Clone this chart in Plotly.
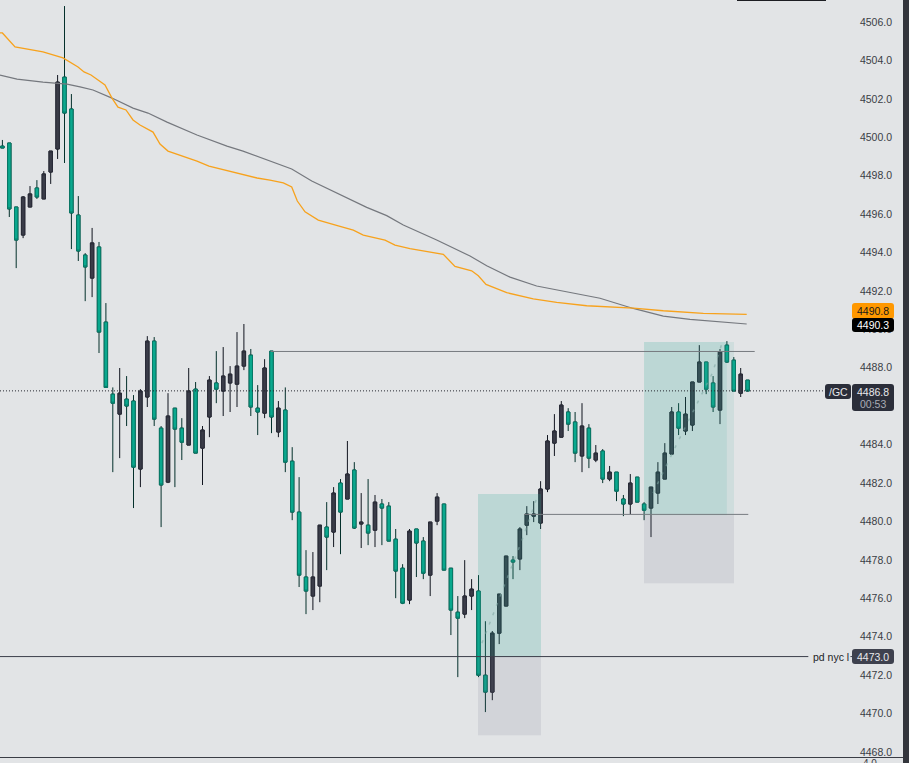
import plotly.graph_objects as go

# /GC candles
opens = [
    4499.54, 4499.70, 4496.37, 4494.91, 4496.37, 4497.36, 4496.79, 4498.19, 4499.39, 4503.13,
    4501.47, 4495.95, 4493.87, 4492.67, 4494.29, 4490.38, 4486.63, 4485.59, 4486.37, 4486.27,
    4482.73, 4486.48, 4489.39, 4484.86, 4482.05, 4485.90, 4484.86, 4483.98, 4486.89, 4483.82,
    4485.44, 4487.21, 4486.79, 4487.21, 4487.15, 4488.09, 4488.66, 4485.90, 4485.64, 4488.87,
    4484.66, 4485.80, 4483.14, 4480.49, 4477.11, 4476.12, 4476.64, 4479.71, 4479.45, 4482.00,
    4481.17, 4482.68, 4479.87, 4479.81, 4479.55, 4480.91, 4480.80, 4479.08, 4477.57, 4475.91,
    4479.61, 4478.98, 4477.21, 4480.02, 4480.91, 4477.57, 4475.28, 4475.18, 4476.12, 4476.38,
    4472.00, 4471.12, 4474.19, 4475.60, 4477.99, 4478.05, 4479.81, 4480.28, 4479.92, 4481.69,
    4484.08, 4484.39, 4485.70, 4485.18, 4483.41, 4484.86, 4483.20, 4483.67, 4482.21, 4482.57,
    4481.17, 4480.91, 4482.31, 4480.91, 4480.70, 4481.48, 4482.21, 4483.51, 4485.70, 4484.71,
    4485.02, 4487.26, 4488.30, 4487.21, 4485.80, 4489.18, 4488.40, 4486.68, 4487.36,
]
highs = [
    4499.86, 4499.70, 4496.37, 4496.94, 4497.46, 4497.77, 4498.24, 4499.28, 4503.24, 4506.83,
    4502.25, 4496.94, 4493.97, 4495.28, 4494.55, 4491.37, 4486.98, 4487.99, 4487.57, 4486.58,
    4486.89, 4489.65, 4489.60, 4484.97, 4486.68, 4485.90, 4485.38, 4487.99, 4487.26, 4484.97,
    4487.57, 4488.87, 4489.08, 4488.09, 4489.86, 4490.28, 4488.98, 4487.10, 4488.45, 4488.87,
    4486.27, 4486.98, 4483.87, 4482.31, 4478.51, 4478.41, 4479.81, 4481.01, 4481.79, 4482.21,
    4484.19, 4483.09, 4481.48, 4482.21, 4481.38, 4481.17, 4481.01, 4479.61, 4477.78, 4479.61,
    4479.61, 4479.19, 4479.97, 4481.48, 4480.91, 4477.57, 4476.12, 4477.99, 4477.00, 4477.21,
    4474.81, 4474.30, 4476.22, 4478.20, 4478.20, 4479.71, 4480.80, 4481.06, 4482.10, 4484.50,
    4485.59, 4486.27, 4485.90, 4485.70, 4486.16, 4485.07, 4483.98, 4483.77, 4482.89, 4482.57,
    4481.38, 4482.47, 4482.31, 4481.01, 4481.79, 4483.09, 4484.08, 4485.96, 4486.16, 4486.48,
    4487.26, 4489.18, 4488.30, 4487.57, 4488.98, 4489.39, 4488.56, 4487.99, 4487.36,
]
lows = [
    4499.44, 4495.85, 4493.19, 4494.75, 4496.37, 4496.79, 4496.79, 4497.57, 4498.87, 4498.66,
    4494.18, 4493.56, 4491.47, 4491.68, 4488.77, 4486.98, 4482.57, 4483.30, 4484.97, 4480.70,
    4481.79, 4485.96, 4484.97, 4479.71, 4482.00, 4481.79, 4483.20, 4483.98, 4483.56, 4481.90,
    4484.39, 4486.16, 4485.49, 4485.70, 4485.96, 4487.88, 4485.49, 4484.50, 4485.38, 4484.60,
    4484.39, 4482.57, 4480.07, 4476.59, 4475.18, 4475.39, 4475.80, 4477.47, 4478.67, 4478.30,
    4481.17, 4479.61, 4478.62, 4478.77, 4478.67, 4478.77, 4478.98, 4476.01, 4475.70, 4475.70,
    4477.11, 4477.00, 4476.12, 4479.81, 4477.47, 4474.09, 4471.90, 4474.97, 4475.39, 4471.90,
    4470.08, 4470.70, 4473.62, 4475.60, 4477.00, 4477.47, 4479.29, 4479.97, 4479.61, 4481.53,
    4483.41, 4484.39, 4484.71, 4483.09, 4482.57, 4482.78, 4483.09, 4482.00, 4482.10, 4481.06,
    4480.28, 4480.39, 4481.01, 4480.07, 4479.19, 4480.91, 4482.21, 4483.51, 4484.50, 4484.50,
    4484.71, 4487.26, 4486.63, 4485.70, 4485.07, 4488.25, 4486.79, 4486.48, 4486.79,
]
closes = [
    4499.44, 4496.27, 4494.65, 4496.89, 4497.05, 4496.89, 4498.09, 4499.28, 4502.87, 4501.26,
    4496.06, 4494.08, 4493.25, 4494.50, 4489.86, 4486.98, 4486.16, 4486.68, 4486.01, 4482.83,
    4486.79, 4489.39, 4485.33, 4481.90, 4485.49, 4484.81, 4484.13, 4486.79, 4483.56, 4484.76,
    4487.36, 4486.89, 4487.57, 4487.67, 4488.09, 4488.87, 4485.96, 4485.70, 4487.99, 4485.44,
    4485.90, 4483.09, 4480.49, 4477.21, 4476.38, 4477.11, 4479.81, 4479.19, 4481.48, 4480.49,
    4482.47, 4479.66, 4479.97, 4479.40, 4481.01, 4480.70, 4478.98, 4477.42, 4475.75, 4479.50,
    4478.88, 4477.31, 4479.97, 4481.27, 4477.47, 4475.39, 4474.97, 4476.12, 4476.48, 4472.00,
    4471.12, 4474.19, 4476.22, 4478.20, 4477.89, 4479.61, 4480.39, 4480.39, 4481.69, 4484.19,
    4484.71, 4486.06, 4485.07, 4483.56, 4484.97, 4483.30, 4483.56, 4482.21, 4482.57, 4481.58,
    4480.91, 4482.00, 4481.01, 4480.59, 4481.79, 4482.57, 4483.56, 4485.70, 4484.86, 4485.59,
    4487.26, 4488.30, 4486.89, 4485.96, 4488.82, 4488.30, 4486.79, 4487.67, 4486.79,
]
bars = list(range(len(opens)))

# moving averages
orange_x = [-0.35, 0, 1.83, 5.88, 8.78, 10.96, 11.83, 12.84, 14.87, 15.88, 16.75, 17.91, 18.93, 19.94,
            21.83, 22.84, 24.0, 28.2, 29.94, 34.0, 36.9, 38.78, 40.71, 41.93, 42.74, 43.86, 45.78,
            48.93, 50.86, 52.3, 55.45, 56.9, 59.07, 63.9, 65.59, 68.01, 68.97, 70.09, 73.09, 76.94,
            80.33, 84.68, 91.43, 95.78, 101.58, 107.87]
orange_y = [4505.43, 4505.43, 4504.70, 4504.44, 4504.13, 4503.66, 4503.40, 4503.24, 4502.72, 4502.04,
            4501.57, 4501.42, 4500.90, 4500.64, 4500.27, 4499.65, 4499.28, 4498.76, 4498.50, 4498.14,
            4497.88, 4497.77, 4497.63, 4497.41, 4496.68, 4496.12, 4495.69, 4495.36, 4495.17, 4494.91,
            4494.65, 4494.39, 4494.20, 4493.91, 4493.28, 4493.05, 4492.79, 4492.34, 4491.91, 4491.59,
            4491.41, 4491.23, 4491.11, 4490.97, 4490.83, 4490.78]
gray_x = [-0.35, 2.12, 5.88, 7.62, 9.36, 11.25, 13.13, 15.88, 18.93, 21.1, 23.86, 28.2, 32.55, 34.87,
          36.9, 38.78, 41.93, 44.83, 48.45, 52.8, 55.7, 58.1, 62.94, 67.77, 70.19, 73.57, 77.43,
          81.78, 86.61, 91.43, 95.78, 99.65, 107.87]
gray_y = [4503.24, 4503.03, 4502.87, 4502.82, 4502.77, 4502.62, 4502.46, 4502.04, 4501.52, 4501.26,
          4500.79, 4500.12, 4499.54, 4499.28, 4499.02, 4498.78, 4498.35, 4497.72, 4497.08, 4496.35,
          4495.92, 4495.43, 4494.65, 4493.82, 4493.31, 4492.72, 4492.26, 4491.96, 4491.62, 4491.09,
          4490.69, 4490.52, 4490.28]

# faint dashed paths inside the two position boxes
trade1_x = [69.5, 70.7, 72.5, 75.3, 77.5]
trade1_y = [4473.67, 4474.76, 4476.43, 4479.03, 4481.27]
trade2_x = [94.3, 97.8, 102.9, 104.3]
trade2_y = [4481.48, 4484.08, 4487.73, 4489.29]

tick_vals = list(range(4468, 4508, 2))

BG = "#e2e4e6"
W, H = 909, 763
AXIS_END = 895


def px(x):
    return x / W


def py(y):
    return 1 - y / H


def round_box(x0, y0, x1, y1, color, r=3):
    path = (
        f"M {px(x0 + r)} {py(y0)} L {px(x1 - r)} {py(y0)} Q {px(x1)} {py(y0)} {px(x1)} {py(y0 + r)} "
        f"L {px(x1)} {py(y1 - r)} Q {px(x1)} {py(y1)} {px(x1 - r)} {py(y1)} "
        f"L {px(x0 + r)} {py(y1)} Q {px(x0)} {py(y1)} {px(x0)} {py(y1 - r)} "
        f"L {px(x0)} {py(y0 + r)} Q {px(x0)} {py(y0)} {px(x0 + r)} {py(y0)} Z"
    )
    return dict(type="path", xref="paper", yref="paper", path=path, fillcolor=color,
                line_width=0, layer="above")


def label(x, y, text, color, size=10, anchor="center"):
    return dict(x=px(x), y=py(y), xref="paper", yref="paper", text=text, showarrow=False,
                font=dict(family="Liberation Sans", size=size, color=color), xanchor=anchor,
                yanchor="middle", borderpad=0)


def zone(x0, x1, y0, y1, color):
    return dict(type="rect", xref="x", yref="y", x0=x0, x1=x1, y0=y0, y1=y1, fillcolor=color,
                line_width=0, layer="above")


def level(x0, x1, y, color, dash="solid"):
    return dict(type="line", xref="x", yref="y", x0=x0, x1=x1, y0=y, y1=y, layer="above",
                line=dict(color=color, width=1, dash=dash))


fig = go.Figure()

# wicks
fig.add_trace(go.Candlestick(
    x=bars, open=opens, high=highs, low=lows, close=closes, whiskerwidth=0,
    increasing=dict(line=dict(color="#11151f", width=1), fillcolor="#3a3c48"),
    decreasing=dict(line=dict(color="#04302b", width=1), fillcolor="#0aa88e"),
))
# bodies again, with the softer border
fig.add_trace(go.Candlestick(
    x=bars, open=opens, close=closes, whiskerwidth=0,
    high=[max(o, c) for o, c in zip(opens, closes)],
    low=[min(o, c) for o, c in zip(opens, closes)],
    increasing=dict(line=dict(color="#2a2c38", width=1), fillcolor="#3a3c48"),
    decreasing=dict(line=dict(color="#087a68", width=1), fillcolor="#0aa88e"),
))

fig.add_trace(go.Scatter(x=gray_x, y=gray_y, mode="lines", line=dict(color="#75787e", width=1.2)))
fig.add_trace(go.Scatter(x=orange_x, y=orange_y, mode="lines", line=dict(color="#f7a21d", width=1.3)))
for tx, ty in [(trade1_x, trade1_y), (trade2_x, trade2_y)]:
    fig.add_trace(go.Scatter(x=tx, y=ty, mode="lines",
                             line=dict(color="rgba(150,170,170,0.6)", width=1.5, dash="3px,7px")))

shapes = [
    zone(68.93, 78.06, 4473.0, 4481.43, "rgba(40,165,145,0.2)"),
    zone(68.93, 78.06, 4468.88, 4473.0, "rgba(110,110,130,0.13)"),
    zone(92.99, 105.0, 4480.33, 4489.34, "rgba(40,165,145,0.2)"),
    zone(105.0, 106.03, 4480.33, 4489.34, "rgba(40,165,145,0.1)"),
    zone(92.99, 106.03, 4476.79, 4480.33, "rgba(110,110,130,0.13)"),
    level(38.9, 109.03, 4488.85, "#777b80"),
    level(75.6, 108.1, 4480.37, "#777b80"),
    level(-0.35, 116.8, 4472.97, "#3c3f4b"),
    level(122.9, 123.4, 4472.97, "#3c3f4b"),
    level(-0.35, 119.1, 4486.8, "#23252e", "1px,2px"),
    # frame bits
    dict(type="rect", xref="paper", yref="paper", x0=px(903), x1=1, y0=0, y1=1,
         fillcolor="#33353c", line_width=0, layer="above"),
    dict(type="line", xref="paper", yref="paper", x0=0, x1=px(903), y0=py(757.5), y1=py(757.5),
         line=dict(color="#3a3d45", width=1), layer="above"),
    dict(type="rect", xref="paper", yref="paper", x0=px(737), x1=px(826), y0=py(1), y1=1,
         fillcolor="#1c1d22", line_width=0, layer="above"),
    # price tags
    round_box(852, 303, 894, 319, "#ff9800"),
    round_box(852, 318, 894, 332, "#000000"),
    round_box(825, 384, 851, 399, "#2b2e3a"),
    round_box(852, 384, 894, 411, "#2b2e3a"),
    round_box(852, 649, 894, 664, "#3e414e"),
]

annotations = [
    label(873, 311, "4490.8", "#1a1a1a", 10.5),
    label(873, 325, "4490.3", "#ffffff", 10.5),
    label(838, 391.5, "/GC", "#e8e9ec", 10.5),
    label(873, 391.5, "4486.8", "#e8e9ec", 10.5),
    label(873, 403.5, "00:53", "#a9acb5", 10.5),
    label(873, 656.5, "4473.0", "#e8e9ec", 10.5),
    label(812, 656.5, "pd nyc l", "#1c1e26", 10.5, "left"),
    label(878, 763, "4.0", "#3a3d45", 10, "right"),
]

fig.update_layout(
    width=W, height=H, margin=dict(l=0, r=0, t=0, b=0),
    paper_bgcolor=BG, plot_bgcolor=BG, showlegend=False,
    shapes=shapes, annotations=annotations,
    xaxis=dict(domain=[0, AXIS_END / W], range=[-0.348, (AXIS_END - 2.4) / 6.9], visible=False,
               rangeslider=dict(visible=False), fixedrange=True),
    yaxis=dict(side="right", range=[4467.43, 4507.145], tickvals=tick_vals, tickformat=".1f",
               ticklabelposition="inside", showgrid=False, zeroline=False, ticks="",
               showline=False, fixedrange=True,
               tickfont=dict(family="Liberation Sans", size=10.5, color="#3a3d45")),
)

# the browser's default body margin would push the chart off the window
fig.write_html("out.html", config=dict(displayModeBar=False),
               post_script="document.body.style.margin='0';window.dispatchEvent(new Event('resize'));")
